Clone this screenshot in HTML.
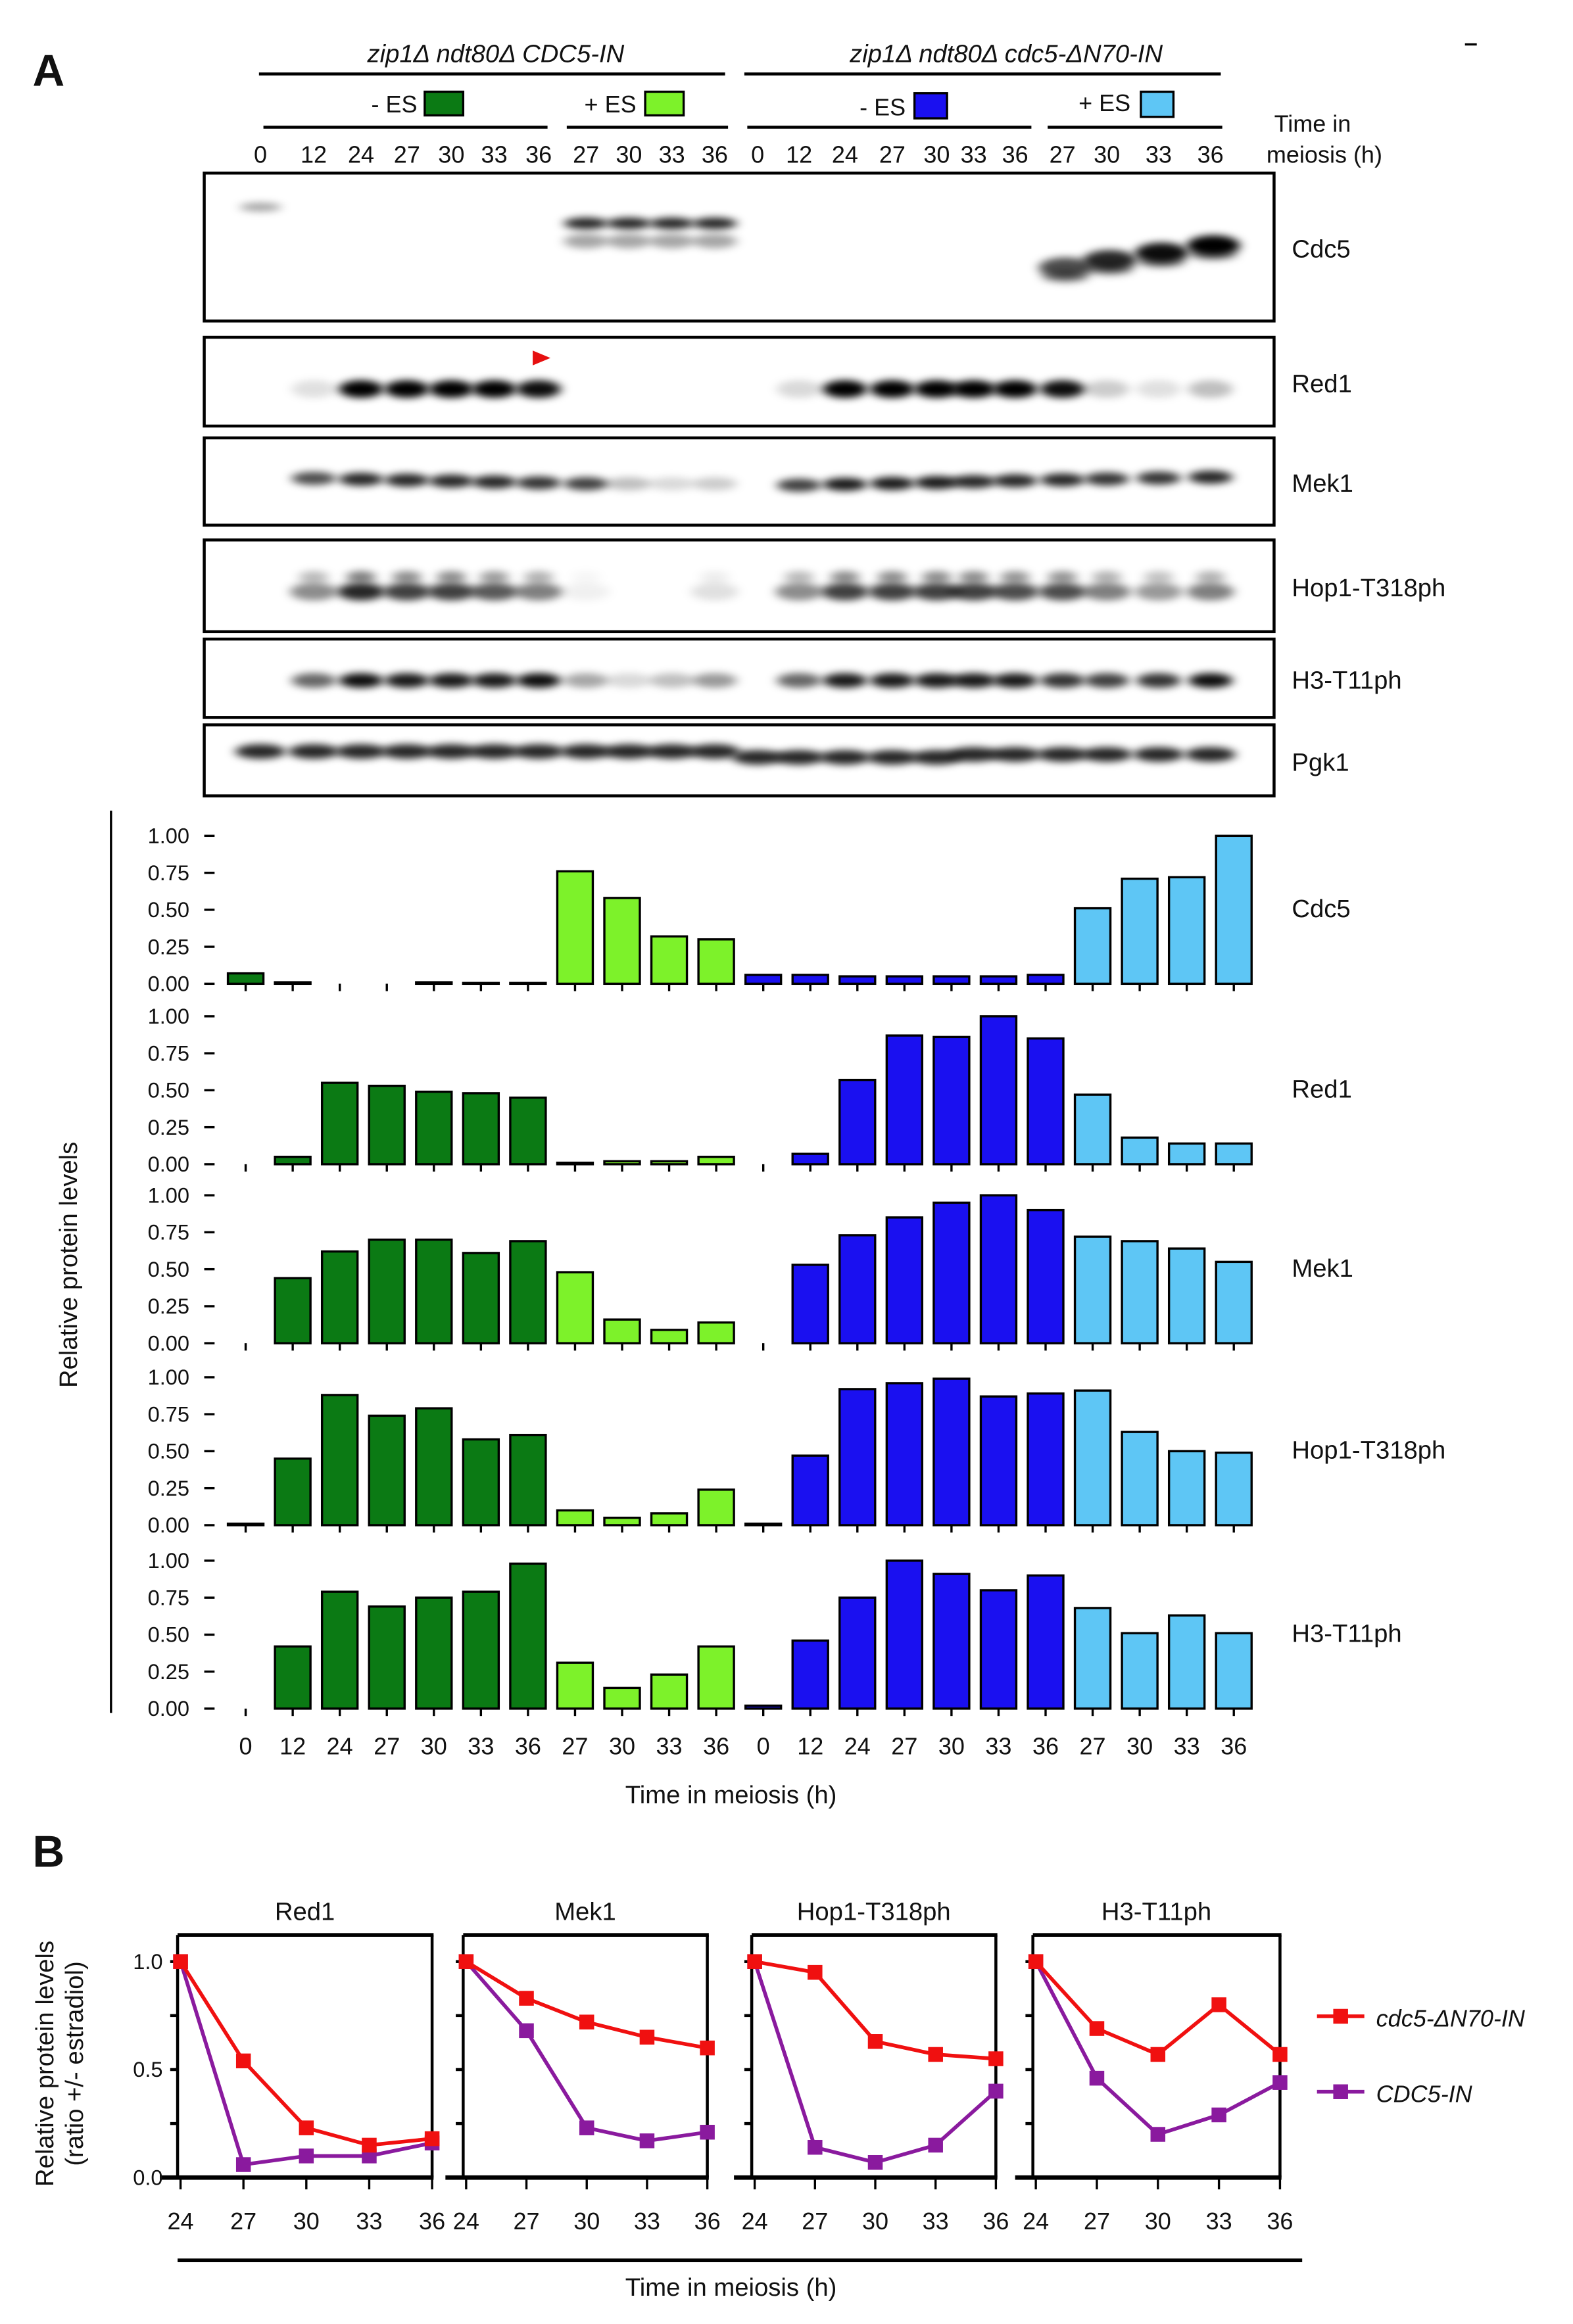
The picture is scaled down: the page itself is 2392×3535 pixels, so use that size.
<!DOCTYPE html>
<html><head><meta charset="utf-8"><style>
html,body{margin:0;padding:0;background:#fff}
svg{display:block}
text{font-family:"Liberation Sans",Arial,sans-serif;fill:#111}
</style></head><body>
<svg id="s" width="2392" height="3535" viewBox="0 0 1063 1571" xmlns="http://www.w3.org/2000/svg">
<defs>
<filter id="bl" x="-50%" y="-200%" width="200%" height="500%"><feGaussianBlur stdDeviation="3.5 2.5"/></filter>
</defs>
<g id="g"></g>
</svg>
<script>
var o='';
function T(x,y,s,sz,anc,extra){o+='<text x="'+x+'" y="'+y+'" font-size="'+sz+'" text-anchor="'+(anc||'middle')+'" '+(extra||'')+'>'+s+'</text>';}
function L(x1,y1,x2,y2,w,c){o+='<line x1="'+x1+'" y1="'+y1+'" x2="'+x2+'" y2="'+y2+'" stroke="'+(c||'#000')+'" stroke-width="'+(w||1.5)+'"/>';}
function R(x,y,w,h,f,sw){o+='<rect x="'+x+'" y="'+y+'" width="'+w+'" height="'+h+'" fill="'+f+'" stroke="#000" stroke-width="'+(sw||1.5)+'"/>';}
o+='<text x="22" y="58" font-size="30" font-weight="bold">A</text>';
T(335,42,'zip1Δ ndt80Δ CDC5-IN',17,'middle','font-style="italic"');
T(680,42,'zip1Δ ndt80Δ cdc5-ΔN70-IN',17,'middle','font-style="italic"');
L(175,50,490,50,2);L(503,50,825,50,2);
L(990,30,998,30,1.5);
T(282,76,'- ES',16,'end');R(287,62,26,16,'#0b7a14');
T(430,76,'+ ES',16,'end');R(436,62,26,16,'#7df22a');
T(612,78,'- ES',16,'end');R(618,63,22,17,'#1a10f0');
T(764,75,'+ ES',16,'end');R(771,62,22,17,'#5ec6f5');
L(178,86,370,86,2);L(383,86,492,86,2);L(505,86,697,86,2);L(708,86,826,86,2);
T(887,89,'Time in',16);T(895,110,'meiosis (h)',16);
var hl=['0','12','24','27','30','33','36','27','30','33','36','0','12','24','27','30','33','36','27','30','33','36'];
var lx=[176,212,244,275,305,334,364,396,425,454,483,512,540,571,603,633,658,686,718,748,783,818];
for(var i=0;i<22;i++)T(lx[i],110,hl[i],16);
var boxes=[[117,217,'Cdc5'],[228,288,'Red1'],[296,355,'Mek1'],[365,427,'Hop1-T318ph'],[432,485,'H3-T11ph'],[490,538,'Pgk1']];
function band(x,y,w,h,a){o+='<ellipse cx="'+x+'" cy="'+y+'" rx="'+w+'" ry="'+h+'" fill="#000" fill-opacity="'+a+'" filter="url(#bl)"/>';}
band(176,140,14,3,0.35);
for(var i=7;i<=10;i++){band(lx[i],151,15,4,0.85);band(lx[i],163,15,5,0.35);}
var cd=[0.7,0.85,0.95,1];for(var i=18;i<=21;i++){var yy=181-(i-18)*5;band(lx[i]+2,yy,18,7,cd[i-18]);band(lx[i]+2,yy+6,16,4,0.4);}
var r1={1:0.12,2:1,3:1,4:1,5:1,6:0.95,12:0.15,13:1,14:1,15:1,16:1,17:1,18:0.95,19:0.2,20:0.12,21:0.25};
for(var k in r1)band(lx[k],263,15,6,r1[k]);
o+='<polygon points="360,237 372,242 360,247" fill="#e61010"/>';
var m1={1:0.7,2:0.85,3:0.85,4:0.85,5:0.85,6:0.8,7:0.75,8:0.25,9:0.15,10:0.2,12:0.75,13:0.9,14:0.9,15:0.9,16:0.85,17:0.85,18:0.85,19:0.8,20:0.8,21:0.85};
for(var k in m1)band(lx[k],327-(k>=12?-1+(k-12)*0.6:(k<7?(7-k)*0.6:0)),15,4.5,m1[k]);
var hp={1:0.45,2:0.85,3:0.75,4:0.75,5:0.65,6:0.5,7:0.06,10:0.12,12:0.45,13:0.75,14:0.75,15:0.75,16:0.75,17:0.7,18:0.7,19:0.5,20:0.4,21:0.5};
for(var k in hp){band(lx[k],400,16,6,hp[k]);band(lx[k],390,10,4,hp[k]*0.6);}
var h3={1:0.6,2:0.95,3:0.9,4:0.9,5:0.9,6:0.95,7:0.35,8:0.15,9:0.25,10:0.4,12:0.6,13:0.9,14:0.9,15:0.9,16:0.9,17:0.9,18:0.8,19:0.75,20:0.8,21:0.95};
for(var k in h3)band(lx[k],460,15,5,h3[k]);
for(var i=0;i<22;i++)band(lx[i],508+(i>=11&&i<=15?4:(i<11?0:2)),17,5,0.85);
for(var b=0;b<boxes.length;b++){var B=boxes[b];o+='<rect x="138" y="'+B[0]+'" width="723" height="'+(B[1]-B[0])+'" fill="none" stroke="#000" stroke-width="2"/>';T(873,B[0]+(B[1]-B[0])/2+7,B[2],17,'start');}
var cols=['#0b7a14','#0b7a14','#0b7a14','#0b7a14','#0b7a14','#0b7a14','#0b7a14','#7df22a','#7df22a','#7df22a','#7df22a','#1a10f0','#1a10f0','#1a10f0','#1a10f0','#1a10f0','#1a10f0','#1a10f0','#5ec6f5','#5ec6f5','#5ec6f5','#5ec6f5'];
var data=[
['Cdc5',665,[0.07,0.01,0,0,0.01,0.005,0.005,0.76,0.58,0.32,0.30,0.06,0.06,0.05,0.05,0.05,0.05,0.06,0.51,0.71,0.72,1.0]],
['Red1',787,[0,0.05,0.55,0.53,0.49,0.48,0.45,0.01,0.02,0.02,0.05,0,0.07,0.57,0.87,0.86,1.0,0.85,0.47,0.18,0.14,0.14]],
['Mek1',908,[0,0.44,0.62,0.70,0.70,0.61,0.69,0.48,0.16,0.09,0.14,0,0.53,0.73,0.85,0.95,1.0,0.90,0.72,0.69,0.64,0.55]],
['Hop1-T318ph',1031,[0.01,0.45,0.88,0.74,0.79,0.58,0.61,0.10,0.05,0.08,0.24,0.01,0.47,0.92,0.96,0.99,0.87,0.89,0.91,0.63,0.50,0.49]],
['H3-T11ph',1155,[0,0.42,0.79,0.69,0.75,0.79,0.98,0.31,0.14,0.23,0.42,0.02,0.46,0.75,1.0,0.91,0.80,0.90,0.68,0.51,0.63,0.51]]];
var sc=100;
L(75,548,75,1158,1.5);
o+='<text x="52" y="855" font-size="17" text-anchor="middle" transform="rotate(-90 52 855)">Relative protein levels</text>';
for(var p=0;p<5;p++){var D=data[p],y0=D[1],top=y0-112;
 o+='<rect x="145" y="'+top+'" width="716" height="'+(y0-top)+'" fill="none" stroke="#000" stroke-width="2"/>';
 for(var t=0;t<=4;t++){var yy=y0-t*25;L(138,yy,145,yy,1.5);T(128,yy+5,(t*0.25).toFixed(2),14.5,'end');}
 for(var i=0;i<22;i++){var cx=166+i*31.8,h=D[2][i]*sc;L(cx,y0,cx,y0+5,1.5);
  if(h>0.3)R(cx-12,y0-h,24,h,cols[i],1.5);}
 T(873,y0-45,D[0],17,'start');
}
for(var i=0;i<22;i++)T(166+i*31.8,1186,hl[i],16);
T(494,1219,'Time in meiosis (h)',17);
o+='<text x="22" y="1262" font-size="30" font-weight="bold">B</text>';
var bp=[['Red1',120,292,[1,0.54,0.23,0.15,0.18],[1,0.06,0.10,0.10,0.16]],
['Mek1',313,478,[1,0.83,0.72,0.65,0.60],[1,0.68,0.23,0.17,0.21]],
['Hop1-T318ph',508,673,[1,0.95,0.63,0.57,0.55],[1,0.14,0.07,0.15,0.40]],
['H3-T11ph',698,865,[1,0.69,0.57,0.80,0.57],[1,0.46,0.20,0.29,0.44]]];
var by0=1472,bs=146;
o+='<text x="42" y="1395" font-size="17" text-anchor="middle" transform="rotate(-90 42 1395)"><tspan x="42" dy="-6">Relative protein levels</tspan><tspan x="42" dy="20">(ratio +/- estradiol)</tspan></text>';
for(var p=0;p<4;p++){var P=bp[p],x0=P[1],x1=P[2],dx=(x1-x0-2)/4;
 T((x0+x1)/2,1298,P[0],17);
 L(x0,1308,x1+1,1308,2.5);L(x1,1308,x1,by0,2);L(x0,1308,x0,by0,2);
 L(x0-12,by0,x1+1,by0,3);
 for(var t=0;t<5;t++){var yy=by0-t*bs/4;L(x0-5,yy,x0,yy,2);}
 for(var i=0;i<5;i++){var cx=x0+2+i*dx;L(cx,by0,cx,by0+8,1.5);T(cx,1507,['24','27','30','33','36'][i],16);}
 var ser=[[P[4],'#8a1a9e'],[P[3],'#f01010']];
 for(var s=0;s<2;s++){var pts=[];for(var i=0;i<5;i++)pts.push((x0+2+i*dx)+','+(by0-ser[s][0][i]*bs));
  o+='<polyline points="'+pts.join(' ')+'" fill="none" stroke="'+ser[s][1]+'" stroke-width="2.5"/>';
  for(var i=0;i<5;i++)o+='<rect x="'+(x0+2+i*dx-5)+'" y="'+(by0-ser[s][0][i]*bs-5)+'" width="10" height="10" fill="'+ser[s][1]+'"/>';}
}
T(110,by0+5,'0.0',14.5,'end');T(110,by0-bs/2+5,'0.5',14.5,'end');T(110,by0-bs+5,'1.0',14.5,'end');
L(120,1528,880,1528,2.5);
T(494,1552,'Time in meiosis (h)',17);
L(890,1363,922,1363,2.5,'#f01010');o+='<rect x="901" y="1358" width="10" height="10" fill="#f01010"/>';
T(930,1370,'cdc5-ΔN70-IN',16,'start','font-style="italic"');
L(890,1414,922,1414,2.5,'#8a1a9e');o+='<rect x="901" y="1409" width="10" height="10" fill="#8a1a9e"/>';
T(930,1421,'CDC5-IN',16,'start','font-style="italic"');
document.getElementById('g').innerHTML=o;
</script>
</body></html>
